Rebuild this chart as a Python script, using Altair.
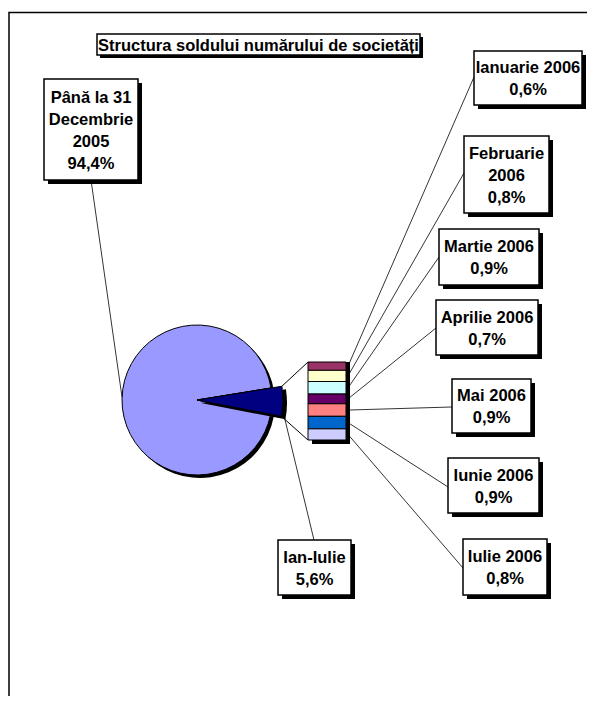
import math
import altair as alt
import pandas as pd

# ---------------- data ----------------
title_text = ["Structura soldului numărului de societăți"]
pie_categories = ["Până la 31 Decembrie 2005", "Ian-Iulie"]
pie_values = [94.4, 5.6]
month_categories = ["Ianuarie 2006", "Februarie 2006", "Martie 2006", "Aprilie 2006",
                    "Mai 2006", "Iunie 2006", "Iulie 2006"]
month_values = [0.6, 0.8, 0.9, 0.7, 0.9, 0.9, 0.8]

# ---------------- styles ----------------
pie_colors = ["#9999FF", "#000080"]
month_colors = ["#993366", "#FFFFCC", "#CCFFFF", "#660066", "#FF8080", "#0066CC", "#CCCCFF"]
FONT = "Liberation Sans"
FS = 16.5
LH = 22

# ---------------- layout (chart pixel coords) ----------------
W, H = 579, 688
CX, CY, R_PIE, R_SLICE = 189, 392, 75, 86
A0 = math.radians(80.8)                    # start angle of the "Ian-Iulie" slice
BAR_X0, BAR_X1, BAR_TOP, BAR_BOT = 300, 338, 354, 432
LEAD_X = 340
wrap = {"Până la 31 Decembrie 2005": "Până la 31\nDecembrie\n2005",
        "Februarie 2006": "Februarie\n2006"}
# label box (x0, y0, x1, y1) and leader attach point on the box
boxes = {
    "Până la 31 Decembrie 2005": ((36, 71, 130, 172), (83, 172)),
    "Ian-Iulie": ((270, 532, 343, 587), (306, 532)),
    "Ianuarie 2006": ((466, 43, 574, 97), (466, 69)),
    "Februarie 2006": ((456, 128, 541, 205), (456, 165)),
    "Martie 2006": ((431, 221, 531, 277), (431, 249)),
    "Aprilie 2006": ((428, 292, 530, 347), (428, 320)),
    "Mai 2006": ((444, 371, 523, 425), (444, 399)),
    "Iunie 2006": ((440, 450, 531, 505), (440, 479)),
    "Iulie 2006": ((455, 531, 539, 587), (455, 560)),
}


def pct(v):
    return f"{v:.1f}".replace(".", ",") + "%"


pie_df = pd.DataFrame({
    "cat": pie_categories,
    "value": pie_values,
    "order": [0 if c == "Ian-Iulie" else 1 for c in pie_categories],
    "color": pie_colors,
    "label": [wrap.get(c, c) + "\n" + pct(v) for c, v in zip(pie_categories, pie_values)],
})
month_df = pd.DataFrame({
    "cat": month_categories,
    "value": month_values,
    "idx": list(range(len(month_categories))),
    "color": month_colors,
    "label": [wrap.get(c, c) + "\n" + pct(v) for c, v in zip(month_categories, month_values)],
})
one = pd.DataFrame({"k": [0]})

layers = []

# frame (top and left edges) drawn as one path-free rect outline clipped by the view
layers.append(alt.Chart(one).mark_rect(fill="white", stroke="black", strokeWidth=1.5).encode(
    x=alt.value(1), x2=alt.value(W + 20), y=alt.value(4.5), y2=alt.value(H + 20)))

# ---- pie ----
theta = alt.Theta("value:Q", stack=True, scale=alt.Scale(range=[A0, A0 + 2 * math.pi]))
order = alt.Order("order:Q")
is_slice = alt.datum.cat == "Ian-Iulie"
pie_base = alt.Chart(pie_df)

layers.append(pie_base.mark_arc(radius=R_PIE, color="black").encode(
    theta=theta, order=order, x=alt.value(CX + 3), y=alt.value(CY + 3)))
layers.append(pie_base.mark_arc(radius=R_PIE, stroke="black", strokeWidth=1).encode(
    theta=theta, order=order, color=alt.Color("color:N", scale=None),
    x=alt.value(CX), y=alt.value(CY)))
layers.append(pie_base.mark_arc(radius=R_SLICE, color="black").encode(
    theta=theta, order=order, x=alt.value(CX + 4), y=alt.value(CY + 3),
    opacity=alt.condition(is_slice, alt.value(1), alt.value(0))))
layers.append(pie_base.mark_arc(radius=R_SLICE, stroke="black", strokeWidth=1).encode(
    theta=theta, order=order, color=alt.Color("color:N", scale=None),
    x=alt.value(CX), y=alt.value(CY),
    opacity=alt.condition(is_slice, alt.value(1), alt.value(0))))

# connectors from slice corners to the bar
frac = pie_values[pie_categories.index("Ian-Iulie")] / sum(pie_values)
a1 = A0 + 2 * math.pi * frac
c_top = (CX + R_SLICE * math.sin(A0), CY - R_SLICE * math.cos(A0))
c_bot = (CX + R_SLICE * math.sin(a1), CY - R_SLICE * math.cos(a1))
layers.append(alt.Chart(one).mark_rule(color="black", strokeWidth=1).encode(
    x=alt.value(c_top[0]), y=alt.value(c_top[1]), x2=alt.value(BAR_X0), y2=alt.value(BAR_TOP)))
layers.append(alt.Chart(one).mark_rule(color="black", strokeWidth=1).encode(
    x=alt.value(c_bot[0]), y=alt.value(c_bot[1]), x2=alt.value(BAR_X0), y2=alt.value(BAR_BOT)))

# ---- stacked bar ----
yscale = alt.Scale(domain=[0, round(sum(month_values), 6)], range=[BAR_BOT, BAR_TOP])
bar_base = alt.Chart(month_df).transform_stack(
    stack="value", groupby=[], as_=["y0", "y1"],
    sort=[alt.SortField("idx", order="descending")])

layers.append(bar_base.mark_rect(color="black").encode(
    x=alt.value(BAR_X0 + 4), x2=alt.value(BAR_X1 + 4),
    y=alt.Y("y0:Q", scale=yscale, axis=None), y2="y1:Q", yOffset=alt.value(4)))
layers.append(bar_base.mark_rect(stroke="black", strokeWidth=1).encode(
    x=alt.value(BAR_X0), x2=alt.value(BAR_X1),
    y=alt.Y("y0:Q", scale=yscale, axis=None), y2="y1:Q",
    color=alt.Color("color:N", scale=None)))

# leaders from bar segments to labels
for m in month_categories:
    (bx0, by0, bx1, by1), (px, py) = boxes[m]
    layers.append(bar_base.transform_calculate(mid="(datum.y0 + datum.y1) / 2")
                  .transform_filter(alt.datum.cat == m)
                  .mark_rule(color="black", strokeWidth=0.8).encode(
                      x=alt.value(LEAD_X), y=alt.Y("mid:Q", scale=yscale, axis=None),
                      x2=alt.value(px), y2=alt.value(py)))

# leaders for pie labels
layers.append(alt.Chart(one).mark_rule(color="black", strokeWidth=0.8).encode(
    x=alt.value(83), y=alt.value(172), x2=alt.value(CX - R_PIE), y2=alt.value(CY - 3)))
layers.append(alt.Chart(one).mark_rule(color="black", strokeWidth=0.8).encode(
    x=alt.value(c_bot[0] + 3), y=alt.value(c_bot[1] + 1), x2=alt.value(306), y2=alt.value(532)))


def label_box(df, name, shadow=4):
    (x0, y0, x1, y1), _ = boxes[name]
    text = df.loc[df["cat"] == name, "label"].iloc[0]
    n_lines = text.count("\n") + 1
    ty = (y0 + y1) / 2 + 1 - (n_lines - 1) * LH / 2
    out = [
        alt.Chart(one).mark_rect(color="black").encode(
            x=alt.value(x0 + shadow), x2=alt.value(x1 + shadow),
            y=alt.value(y0 + shadow), y2=alt.value(y1 + shadow)),
        alt.Chart(one).mark_rect(fill="white", stroke="black", strokeWidth=1.5).encode(
            x=alt.value(x0), x2=alt.value(x1), y=alt.value(y0), y2=alt.value(y1)),
        alt.Chart(df).transform_filter(alt.datum.cat == name).mark_text(
            font=FONT, fontSize=FS, fontWeight="bold", lineBreak="\n", lineHeight=LH,
            align="center", baseline="middle", color="black").encode(
            x=alt.value((x0 + x1) / 2), y=alt.value(ty), text="label:N"),
    ]
    return out


for c in pie_categories:
    layers += label_box(pie_df, c)
for m in month_categories:
    layers += label_box(month_df, m)

# title box
TX0, TY0, TX1, TY1 = 89, 26, 412, 47
title_df = pd.DataFrame({"t": title_text})
layers.append(alt.Chart(one).mark_rect(color="black").encode(
    x=alt.value(TX0 + 3), x2=alt.value(TX1 + 3), y=alt.value(TY0 + 3), y2=alt.value(TY1 + 3)))
layers.append(alt.Chart(one).mark_rect(fill="white", stroke="black", strokeWidth=1.5).encode(
    x=alt.value(TX0), x2=alt.value(TX1), y=alt.value(TY0), y2=alt.value(TY1)))
layers.append(alt.Chart(title_df).mark_text(
    font=FONT, fontSize=FS, fontWeight="bold", align="center", baseline="middle",
    color="black").encode(x=alt.value((TX0 + TX1) / 2), y=alt.value((TY0 + TY1) / 2 + 1),
                          text="t:N"))

chart = alt.layer(*layers).properties(
    width=W, height=H, autosize=alt.AutoSizeParams(type="none"), padding=0,
    background="white",
).configure_view(stroke=None, clip=True)

chart.save("out.html", embed_options={"renderer": "svg", "actions": False})
